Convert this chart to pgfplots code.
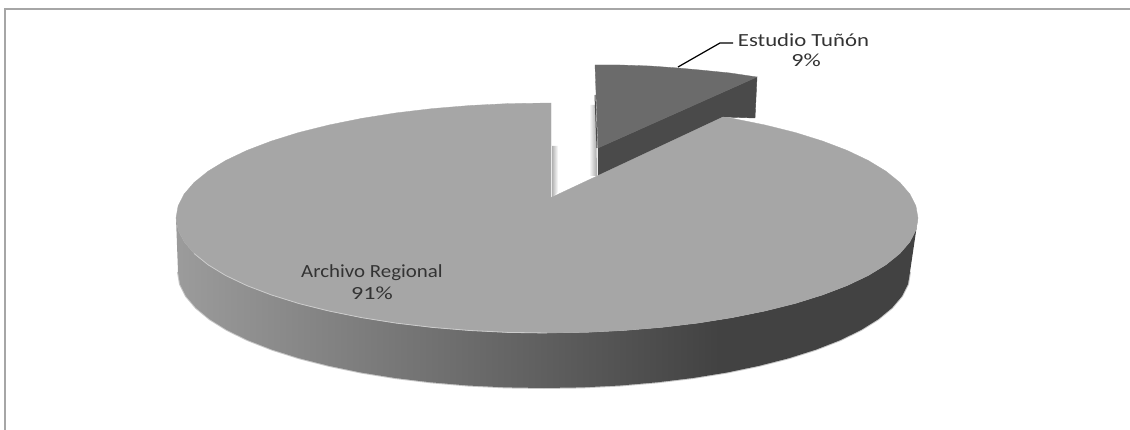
\documentclass[border=0pt]{standalone}
\usepackage{fontspec}
\setmainfont{Carlito}
\usepackage{pgfplots}
\pgfplotsset{compat=1.18}
\definecolor{face}{HTML}{A6A6A6}
\definecolor{frame}{HTML}{A6A6A6}
\definecolor{small}{HTML}{6B6B6B}
\definecolor{smallside}{HTML}{4A4A4A}
\definecolor{txt}{HTML}{333333}
\pgfdeclarehorizontalshading{sideshade}{100bp}{rgb(0bp)=(0.61,0.61,0.61);rgb(25bp)=(0.61,0.61,0.61);rgb(61.6bp)=(0.259,0.259,0.259);rgb(100bp)=(0.259,0.259,0.259)}
\begin{document}
\begin{tikzpicture}
\path (0,0) rectangle (1130pt,430pt);
\begin{axis}[at={(0,0)},anchor=south west,scale only axis,width=1130pt,height=430pt,xmin=0,xmax=1130,ymin=0,ymax=430,y dir=reverse,hide axis,clip=true,no markers]
% frame
\addplot[frame,line width=2pt] coordinates {(5,430)(5,9)(1130,9)};
% shadows
\addplot[left color=white,right color=black!35,draw=none] coordinates {(589,105)(596,105)(597,176)(590,176)} --cycle;
\addplot[left color=black!30,right color=white,draw=none] coordinates {(552,146)(558,146)(558,192)(552,198)} --cycle;
% small slice: side and top
\addplot[fill=smallside,draw=smallside] coordinates {(757,77)(598,148)(598,176)(723,117)(755,118)} --cycle;
\addplot[fill=small,draw=small,line width=0.3pt] coordinates {(595,65)(620,65)(650,66)(678,68)(700,70)(730,73)(757,77)(598,148)} --cycle;
\addplot[smallside,line width=1pt] coordinates {(595,95)(597,148)};
% leader
\addplot[black,line width=1.2pt] coordinates {(678,67)(720,43)(733,43)};
% soft lower edge of the side
\addplot[black!22,line width=2pt] coordinates {(178,272)(180,284.1)(186,296.1)(195.9,307.8)(209.7,319.2)(227,330)(247.9,340.2)(272,349.6)(299.1,358.2)(328.9,365.8)(361,372.5)(395.1,378)(430.9,382.3)(467.9,385.5)(505.8,387.4)(544,388)(582.2,387.4)(620.1,385.5)(657.1,382.3)(692.9,378)(727,372.5)(759.1,365.8)(788.9,358.2)(816,349.6)(840.1,340.2)(861,330)(878.3,319.2)(892.1,307.8)(902,296.1)(908,284.1)(910,272)};
% large slice: side
\addplot[shading=sideshade,draw=none] coordinates {(176,218)(178.1,230)(184.1,241.9)(194.1,253.5)(208.1,264.8)(225.7,275.5)(246.9,285.6)(271.3,294.9)(298.8,303.5)(328.9,311)(361.5,317.6)(396.1,323.1)(432.4,327.4)(469.9,330.5)(508.2,332.4)(547,333)(585.8,332.4)(624.1,330.5)(661.6,327.4)(697.9,323.1)(732.5,317.6)(765.1,311)(795.2,303.5)(822.7,294.9)(847.1,285.6)(868.3,275.5)(885.9,264.8)(899.9,253.5)(909.9,241.9)(915.9,230)(918,218)(910,272)(908,284.1)(902,296.1)(892.1,307.8)(878.3,319.2)(861,330)(840.1,340.2)(816,349.6)(788.9,358.2)(759.1,365.8)(727,372.5)(692.9,378)(657.1,382.3)(620.1,385.5)(582.2,387.4)(544,388)(505.8,387.4)(467.9,385.5)(430.9,382.3)(395.1,378)(361,372.5)(328.9,365.8)(299.1,358.2)(272,349.6)(247.9,340.2)(227,330)(209.7,319.2)(195.9,307.8)(186,296.1)(180,284.1)(178,272)} --cycle;
% large slice: top
\addplot[fill=face,draw=face,line width=0.3pt] coordinates {(551,103)(508.2,103.6)(469.9,105.5)(432.4,108.6)(396.1,112.9)(361.5,118.4)(328.9,125)(298.8,132.5)(271.3,141.1)(246.9,150.4)(225.7,160.5)(208.1,171.2)(194.1,182.5)(184.1,194.1)(178.1,206)(176,218)(178.1,230)(184.1,241.9)(194.1,253.5)(208.1,264.8)(225.7,275.5)(246.9,285.6)(271.3,294.9)(298.8,303.5)(328.9,311)(361.5,317.6)(396.1,323.1)(432.4,327.4)(469.9,330.5)(508.2,332.4)(547,333)(585.8,332.4)(624.1,330.5)(661.6,327.4)(697.9,323.1)(732.5,317.6)(765.1,311)(795.2,303.5)(822.7,294.9)(847.1,285.6)(868.3,275.5)(885.9,264.8)(899.9,253.5)(909.9,241.9)(915.9,230)(918,218)(915.9,206)(909.9,194.1)(899.9,182.5)(885.9,171.2)(868.3,160.5)(847.1,150.4)(822.7,141.1)(795.2,132.5)(765.1,125)(732.5,118.4)(723,117)(548,199)(551,198)} --cycle;
% rim highlight
\addplot[black!20,line width=0.8pt] coordinates {(194.1,253.5)(208.1,264.8)(225.7,275.5)(246.9,285.6)(271.3,294.9)(298.8,303.5)(328.9,311)(361.5,317.6)(396.1,323.1)(432.4,327.4)(469.9,330.5)(508.2,332.4)(547,333)};
% labels
\node[txt,font=\fontsize{18.5}{20}\selectfont,xscale=1.23] at (axis cs:803.5,40) {Estudio Tuñón};
\node[txt,font=\fontsize{18.5}{20}\selectfont,xscale=1.3] at (axis cs:806,60) {9\%};
\node[txt,font=\fontsize{18.5}{20}\selectfont,xscale=1.13] at (axis cs:372,273) {Archivo Regional};
\node[txt,font=\fontsize{18.5}{20}\selectfont,xscale=1.3] at (axis cs:372,293) {91\%};
\end{axis}
\end{tikzpicture}
\end{document}
